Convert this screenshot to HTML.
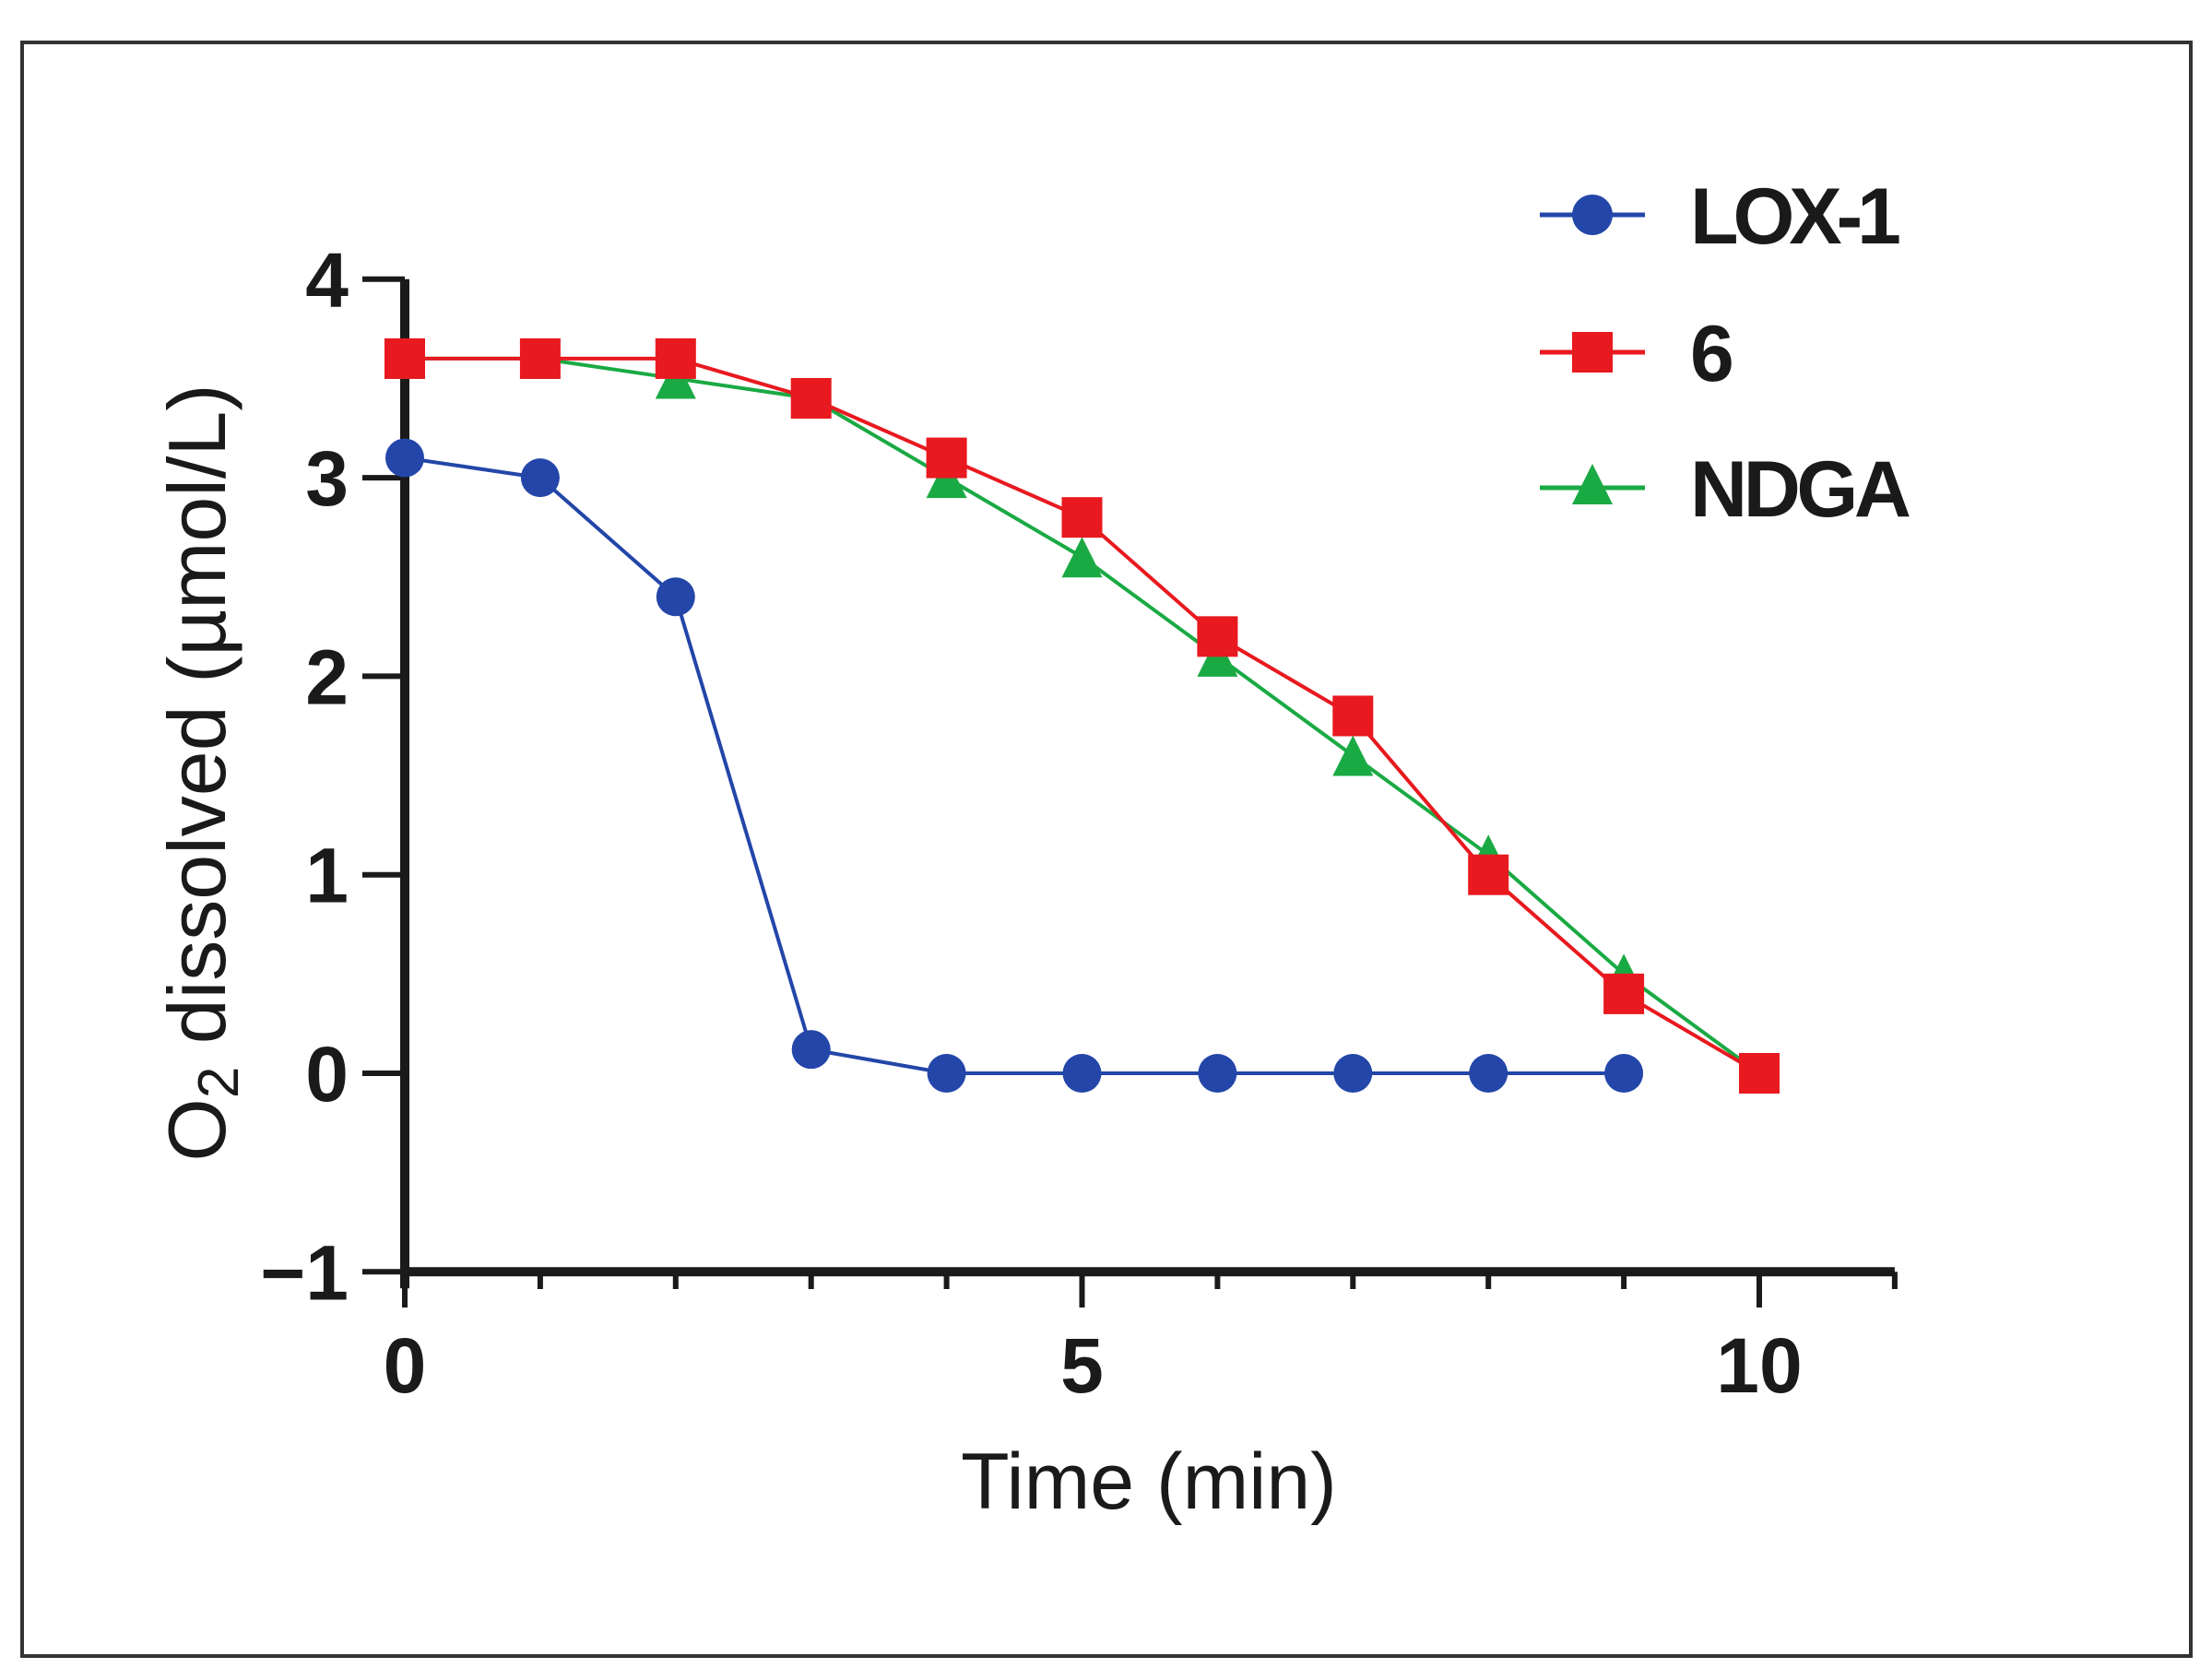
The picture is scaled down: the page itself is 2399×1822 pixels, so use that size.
<!DOCTYPE html>
<html><head><meta charset="utf-8"><style>
html,body{margin:0;padding:0;background:#fff;}
svg{display:block;}
text{font-family:"Liberation Sans",Arial,sans-serif;fill:#1a1a1a;}
</style></head><body>
<svg id="chart" width="2399" height="1822" viewBox="0 0 2399 1822">
<rect x="24" y="46" width="2352" height="1750" fill="#fff" stroke="#333" stroke-width="4"/>
<g id="axes"></g>
<g id="series"></g>
<g id="legend"></g>
</svg>
<script>
const xValues = [0,1,2,3,4,5,6,7,8,9,10];
const lox1 = [3.1,3.0,2.4,0.12,0,0,0,0,0,0];
const cmp6 = [3.6,3.6,3.6,3.4,3.1,2.8,2.2,1.8,1.0,0.4,0];
const ndga = [3.6,3.6,3.5,3.4,3.0,2.6,2.1,1.6,1.1,0.5,0];
const yTicks = [-1,0,1,2,3,4];
const yTickLabels = ["\u22121","0","1","2","3","4"];
const xMajor = [0,5,10];
const xMinor = [1,2,3,4,6,7,8,9,11];
const seriesNames = ["LOX-1","6","NDGA"];

const NS="http://www.w3.org/2000/svg";
const X0=439, XU=146.9, Y0=1164, YU=215.3;
function sx(v){return X0+v*XU;}
function sy(v){return Y0-v*YU;}
function mk(tag,attrs,parent){const e=document.createElementNS(NS,tag);for(const k in attrs)e.setAttribute(k,attrs[k]);parent.appendChild(e);return e;}
const axes=document.getElementById('axes');
const ser=document.getElementById('series');
const leg=document.getElementById('legend');

let el=mk('line',{x1:sx(0),y1:sy(4),x2:sx(0),y2:sy(-1)+18,stroke:'#1a1a1a','stroke-width':10},axes);


el=mk('line',{x1:sx(0)-5,y1:sy(-1),x2:sx(11),y2:sy(-1),stroke:'#1a1a1a','stroke-width':10},axes);


yTicks.forEach((t,i)=>{
  let l=mk('line',{x1:393,y1:sy(t),x2:sx(0),y2:sy(t),stroke:'#1a1a1a','stroke-width':6},axes);
  
  
  let tx=mk('text',{x:378,y:sy(t)+30,'text-anchor':'end','font-size':84,'font-weight':'bold'},axes);
  tx.textContent=yTickLabels[i];
  
  
});
xMajor.forEach(t=>{
  let l=mk('line',{x1:sx(t),y1:sy(-1),x2:sx(t),y2:1418,stroke:'#1a1a1a','stroke-width':6},axes);
  
  
  let tx=mk('text',{x:sx(t),y:1510,'text-anchor':'middle','font-size':84,'font-weight':'bold'},axes);
  tx.textContent=String(t);
  
  
});
xMinor.forEach(t=>{
  let l=mk('line',{x1:sx(t),y1:sy(-1),x2:sx(t),y2:1398,stroke:'#1a1a1a','stroke-width':6},axes);
  
  
});
el=mk('text',{x:1246,y:1636,'text-anchor':'middle','font-size':86},axes);
el.textContent='Time (min)';


el=mk('text',{x:0,y:0,'text-anchor':'middle','font-size':88,transform:'translate(244,838) rotate(-90)'},axes);
el.innerHTML='O<tspan font-size="62" dy="14">2</tspan><tspan dy="-14"> dissolved (\u00b5mol/L)</tspan>';



function marker(kind,cx,cy,color,parent,size){
  let m;
  if(kind==='circle'){m=mk('circle',{cx:cx,cy:cy,r:size/2,fill:color},parent);}
  else if(kind==='square'){m=mk('rect',{x:cx-size/2,y:cy-size/2,width:size,height:size,fill:color},parent);}
  else{m=mk('polygon',{points:`${cx},${cy-size/2} ${cx+size/2},${cy+size/2} ${cx-size/2},${cy+size/2}`,fill:color},parent);}
  return m;
}
const defs=[
  {vals:ndga,color:'#1aaa44',kind:'tri',size:44,name:'ndga'},
  {vals:cmp6,color:'#e8191f',kind:'square',size:44,name:'compound-6'},
  {vals:lox1,color:'#2346a8',kind:'circle',size:42,name:'lox-1'}
];
defs.forEach(d=>{
  const g=mk('g',{},ser);
  
  
  const pts=d.vals.map((v,i)=>sx(xValues[i])+','+sy(v)).join(' ');
  let pl=mk('polyline',{points:pts,fill:'none',stroke:d.color,'stroke-width':4},g);
  
  
  d.vals.forEach((v,i)=>{
    let m=marker(d.kind,sx(xValues[i]),sy(v),d.color,g,d.size);
    
    
  });
});
const legDefs=[
  {color:'#2346a8',kind:'circle',size:44,y:233},
  {color:'#e8191f',kind:'square',size:44,y:382},
  {color:'#1aaa44',kind:'tri',size:44,y:529}
];
legDefs.forEach((d,i)=>{
  const g=mk('g',{},leg);
  
  
  mk('line',{x1:1670,y1:d.y,x2:1784,y2:d.y,stroke:d.color,'stroke-width':5},g);
  marker(d.kind,1727,d.kind==='tri'?d.y-4:d.y,d.color,g,d.size);
  let t=mk('text',{x:1833,y:d.y+31,'font-size':86,'font-weight':'bold'},g);
  t.textContent=seriesNames[i];
  if(i===0)t.setAttribute('textLength','229');
  if(i===2)t.setAttribute('textLength','240');
  
  
});
</script>
</body></html>
